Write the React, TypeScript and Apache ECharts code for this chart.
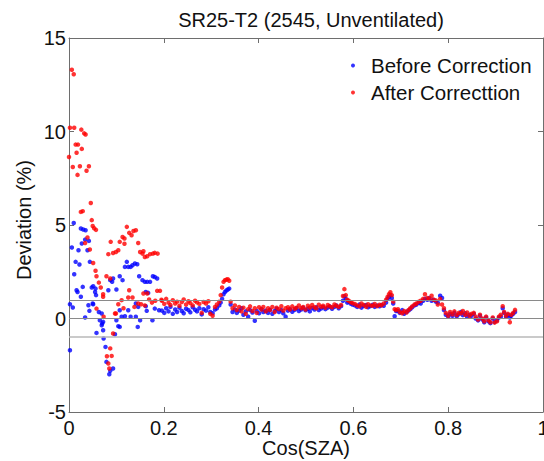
import React, { useEffect, useRef } from "react";
import * as echarts from "echarts";

const titleText = "SR25-T2 (2545, Unventilated)";
const xAxisName = "Cos(SZA)";
const yAxisName = "Deviation (%)";
const seriesNames = ["Before Correction", "After Correcttion"];
const referenceLevels = [1, 0, -1];

// scattered low-sun points [cos(SZA), deviation %]
const beforeLowSun: [number, number][] = [
  [0.010, 5.11], [0.006, 3.8], [0.011, 2.37], [0.014, 3.03], [0.022, 2.89], [0.020, 3.65],
  [0.025, 4.81], [0.030, 4.76], [0.035, 4.72], [0.027, 4.01], [0.034, 4.22], [0.042, 4.15],
  [0.039, 3.65], [0.044, 3.03], [0.018, 1.42], [0.025, 1.16], [0.029, 1.69], [0.002, 0.76],
  [0.008, 0.59], [0.002, -1.7], [0.034, 0.05], [0.043, 0.41], [0.048, 1.66], [0.051, 1.73],
  [0.056, 1.6], [0.051, 0.76], [0.058, -0.77], [0.063, 0.35], [0.065, -0.09], [0.069, -0.36],
  [0.072, -0.18], [0.073, -1.07], [0.077, -1.52], [0.079, -2.32], [0.085, -2.98], [0.087, -2.8],
  [0.093, -2.67], [0.097, -0.84], [0.100, -0.09], [0.104, -0.41], [0.107, -0.45], [0.111, 0.09],
  [0.107, 0.44], [0.118, 0.12], [0.125, 0.44], [0.130, 0.09], [0.141, 0.09], [0.145, -0.45],
  [0.150, -0.09], [0.146, 0.62], [0.141, 0.8], [0.162, 0.66], [0.164, 0.41], [0.176, -0.09],
  [0.181, 0.53], [0.190, 0.44], [0.083, 1.51], [0.087, 2.05], [0.091, 1.96], [0.093, 2.14],
  [0.100, 1.55], [0.107, 2.26], [0.113, 2.05], [0.118, 2.76], [0.122, 3.03], [0.125, 2.76],
  [0.130, 2.76], [0.134, 2.85], [0.139, 2.94], [0.144, 2.9], [0.148, 2.26], [0.155, 2.05],
  [0.160, 1.96], [0.165, 1.96], [0.171, 1.96], [0.177, 2.26], [0.181, 2.22], [0.186, 2.14],
  [0.162, 1.42], [0.167, 1.37], [0.057, 1.25], [0.041, 0.71], [0.050, 0.8], [0.069, 0.27],
  [0.070, -0.27], [0.072, -0.63], [0.055, 1.42], [0.016, 1.51],
];

const afterLowSun: [number, number][] = [
  [0.006, 13.3], [0.010, 13.06], [0.002, 10.2], [0.011, 10.2], [0.026, 10.1], [0.032, 9.9],
  [0.035, 9.84], [0.014, 9.3], [0.019, 9.3], [0.027, 9.07], [0.016, 8.86], [0.000, 8.64],
  [0.008, 8.1], [0.023, 8.14], [0.042, 8.14], [0.037, 7.9], [0.018, 7.68], [0.046, 6.18],
  [0.025, 5.7], [0.029, 5.74], [0.048, 5.26], [0.050, 4.95], [0.053, 4.83], [0.057, 4.74],
  [0.039, 4.33], [0.034, 4.04], [0.044, 3.69], [0.051, 2.97], [0.056, 2.55], [0.058, 2.26],
  [0.063, 1.92], [0.067, 1.66], [0.072, 1.16], [0.058, 0.53], [0.073, 0.09], [0.097, 0.27],
  [0.093, -0.8], [0.087, -1.6], [0.090, -2.0], [0.080, -2.02], [0.083, -2.41], [0.085, -2.67],
  [0.083, 3.44], [0.088, 4.1], [0.093, 3.5], [0.099, 3.56], [0.104, 3.65], [0.107, 4.1],
  [0.113, 4.36], [0.117, 4.0], [0.122, 4.9], [0.127, 4.58], [0.132, 4.45], [0.136, 4.68],
  [0.141, 4.72], [0.146, 4.04], [0.150, 3.56], [0.155, 3.47], [0.160, 3.29], [0.165, 3.33],
  [0.171, 3.44], [0.177, 3.47], [0.181, 3.51], [0.187, 3.47], [0.157, 3.6], [0.079, 2.26],
  [0.087, 2.14], [0.072, 1.3], [0.127, 1.51], [0.125, 1.12], [0.111, 0.98], [0.134, 1.12],
  [0.146, 0.8], [0.152, 0.76], [0.157, 1.34], [0.165, 1.34], [0.169, 1.02], [0.186, 1.48],
  [0.192, 1.48], [0.104, 0.76], [0.099, 0.27], [0.115, 0.55], [0.138, 0.62], [0.175, 0.85],
  [0.182, 0.95], [0.160, 0.70], [0.195, 1.0], [0.117, 4.28],
];

// dense band of higher-sun points (shared cos(SZA) values)
const bandCosSza = [
  0.196, 0.201, 0.205, 0.210, 0.214, 0.219, 0.224, 0.228, 0.233, 0.238, 0.242, 0.247, 0.252, 0.256,
  0.261, 0.266, 0.270, 0.275, 0.280, 0.284, 0.289, 0.294, 0.298, 0.303, 0.308, 0.312, 0.317,
  0.320, 0.323, 0.326, 0.329, 0.332, 0.335, 0.338, 0.341,
  0.345, 0.350, 0.354, 0.359, 0.364, 0.368, 0.373, 0.378, 0.382, 0.387, 0.392, 0.396, 0.401, 0.406,
  0.410, 0.415, 0.420, 0.424, 0.429, 0.434, 0.438, 0.443, 0.448, 0.452, 0.457, 0.462, 0.466, 0.471,
  0.476, 0.480, 0.485, 0.490, 0.494, 0.499, 0.504, 0.508, 0.513, 0.518, 0.522, 0.527, 0.532, 0.536,
  0.541, 0.546, 0.550, 0.555, 0.560, 0.564, 0.569, 0.574,
  0.578, 0.581, 0.584, 0.587, 0.590, 0.594, 0.598,
  0.603, 0.608, 0.613, 0.617, 0.622, 0.627, 0.631, 0.636, 0.641, 0.645, 0.650, 0.655, 0.659, 0.664, 0.669,
  0.672, 0.675, 0.678, 0.681, 0.684, 0.687, 0.690,
  0.694, 0.698, 0.703, 0.707, 0.712, 0.716, 0.720,
  0.724, 0.729, 0.733, 0.738, 0.742, 0.747, 0.751, 0.756, 0.760, 0.765, 0.769, 0.774, 0.778, 0.783, 0.787,
  0.791, 0.795, 0.800, 0.804, 0.809, 0.813, 0.818, 0.822, 0.827, 0.831, 0.836, 0.840, 0.845, 0.849, 0.854,
  0.858, 0.863, 0.867, 0.872, 0.876, 0.880, 0.885, 0.889, 0.894, 0.898, 0.903, 0.907, 0.911,
  0.915, 0.918, 0.922, 0.926, 0.930, 0.933, 0.937, 0.941,
];

const beforeBand = [
  0.42, 0.30, 0.55, 0.38, 0.62, 0.25, 0.48, 0.35, 0.58, 0.40, 0.28, 0.52, 0.45, 0.33,
  0.60, 0.47, 0.38, 0.55, 0.22, 0.50, 0.42, 0.60, 0.35, 0.28, 0.48, 0.55, 0.70,
  0.85, 1.05, 1.30, 1.42, 1.50, 1.55, 1.60, 0.75,
  0.35, 0.48, 0.30, 0.42, 0.55, 0.20, 0.38, 0.10, 0.45, 0.32, -0.12, 0.40, 0.28, 0.50,
  0.35, 0.42, 0.30, 0.46, 0.25, 0.40, 0.52, 0.35, 0.45, 0.28, 0.10, 0.42, 0.50, 0.36,
  0.46, 0.55, 0.40, 0.48, 0.58, 0.44, 0.52, 0.38, 0.56, 0.48, 0.60, 0.45, 0.53, 0.62,
  0.50, 0.58, 0.65, 0.52, 0.62, 0.70, 0.55, 0.66,
  0.95, 1.19, 1.05, 0.85, 0.90, 0.80, 0.75,
  0.70, 0.62, 0.75, 0.58, 0.68, 0.72, 0.60, 0.66, 0.74, 0.62, 0.70, 0.65, 0.72, 0.68, 0.85,
  1.05, 1.15, 1.25, 1.10, 0.80, 0.12, 0.40,
  0.40, 0.30, 0.45, 0.25, 0.35, 0.42, 0.50,
  0.60, 0.70, 0.75, 0.85, 0.80, 0.95, 1.05, 1.00, 1.10, 0.95, 1.00, 0.90, 0.85, 1.22, 1.10,
  0.45, 0.20, 0.10, 0.25, 0.15, 0.30, 0.12, 0.22, 0.35, 0.18, 0.28, 0.10, 0.20, 0.15, 0.25,
  0.00, -0.10, 0.15, -0.05, -0.20, 0.05, -0.15, -0.25, 0.00, -0.18, -0.10, 0.05, 0.10,
  0.55, 0.30, 0.10, 0.20, 0.05, 0.15, 0.25, 0.35,
];

const afterBand = [
  0.95, 0.78, 1.05, 0.85, 0.72, 0.98, 0.80, 0.90, 0.68, 0.88, 1.02, 0.75, 0.92, 0.82,
  0.70, 0.95, 0.86, 0.78, 0.30, 0.88, 0.80, 0.92, 0.25, 0.15, 0.62, 0.75, 0.90,
  1.25, 1.66, 1.96, 2.05, 2.08, 2.10, 2.02, 0.90,
  0.55, 0.70, 0.45, 0.62, 0.38, 0.58, 0.25, 0.50, 0.65, 0.40, 0.55, 0.30, 0.60, 0.48,
  0.62, 0.38, 0.55, 0.45, 0.62, 0.35, 0.58, 0.50, 0.66, 0.42, 0.55, 0.60, 0.48, 0.65,
  0.52, 0.58, 0.70, 0.55, 0.62, 0.48, 0.68, 0.58, 0.72, 0.60, 0.55, 0.74, 0.62, 0.68,
  0.58, 0.72, 0.65, 0.60, 0.75, 0.68, 0.62, 0.72,
  1.20, 1.57, 1.25, 1.00, 0.95, 0.88, 0.82,
  0.78, 0.70, 0.65, 0.80, 0.72, 0.62, 0.76, 0.70, 0.68, 0.78, 0.66, 0.74, 0.70, 0.80, 1.00,
  1.15, 1.30, 1.40, 1.25, 0.90, 0.50, 0.45,
  0.50, 0.35, 0.28, 0.40, 0.32, 0.45, 0.55,
  0.65, 0.75, 0.80, 0.90, 0.95, 1.05, 1.30, 1.10, 1.05, 1.22, 1.00, 0.97, 0.75, 1.05, 0.75,
  0.55, 0.30, 0.15, 0.35, 0.22, 0.38, 0.18, 0.30, 0.28, 0.40, 0.20, 0.32, 0.15, 0.25, 0.30,
  0.10, -0.05, 0.20, 0.00, -0.15, 0.10, -0.10, -0.20, 0.05, -0.22, -0.15, 0.10, 0.20,
  0.66, 0.35, 0.15, 0.25, -0.20, 0.20, 0.30, 0.46,
];

const FONT = '"Liberation Sans", Arial, Helvetica, sans-serif';

export default function App() {
  const ref = useRef<HTMLDivElement>(null);

  useEffect(() => {
    document.body.style.margin = "0";
    if (!ref.current) return;
    const chart = echarts.init(ref.current, null, { renderer: "svg" });

    const beforeData = beforeLowSun.concat(
      bandCosSza.map((x, i) => [x, beforeBand[i]] as [number, number])
    );
    const afterData = afterLowSun.concat(
      bandCosSza.map((x, i) => [x, afterBand[i]] as [number, number])
    );

    const axisLineStyle = { color: "#6e6e6e", width: 1 };
    const tick = { show: true, inside: true, length: 5, lineStyle: { color: "#6e6e6e" } };

    chart.setOption({
      animation: false,
      backgroundColor: "#ffffff",
      textStyle: { fontFamily: FONT },
      title: {
        text: titleText,
        left: 306,
        top: 5,
        textAlign: "center",
        textStyle: { fontFamily: FONT, fontSize: 20, fontWeight: "normal", color: "#111" },
      },
      legend: {
        orient: "vertical",
        left: 346,
        top: 50,
        itemWidth: 26,
        itemHeight: 4,
        itemGap: 6,
        icon: "circle",
        data: seriesNames,
        textStyle: { fontFamily: FONT, fontSize: 20.5, color: "#111", lineHeight: 20 },
      },
      grid: {
        left: 69,
        right: 1,
        top: 38,
        bottom: 49,
        containLabel: false,
        outerBoundsMode: "none",
      },
      xAxis: [
        {
          type: "value",
          min: 0,
          max: 1,
          interval: 0.2,
          position: "bottom",
          name: xAxisName,
          nameLocation: "middle",
          nameGap: 26,
          nameMoveOverlap: false,
          nameTextStyle: { fontFamily: FONT, fontSize: 20, color: "#111", lineHeight: 20 },
          axisLine: { show: true, onZero: false, lineStyle: axisLineStyle },
          axisTick: tick,
          axisLabel: { fontFamily: FONT, fontSize: 20, color: "#111", margin: 6 },
          splitLine: { show: false },
        },
        {
          type: "value",
          min: 0,
          max: 1,
          interval: 0.2,
          position: "top",
          axisLine: { show: true, onZero: false, lineStyle: axisLineStyle },
          axisTick: tick,
          axisLabel: { show: false },
          splitLine: { show: false },
        },
      ],
      yAxis: [
        {
          type: "value",
          min: -5,
          max: 15,
          interval: 5,
          position: "left",
          name: yAxisName,
          nameLocation: "middle",
          nameGap: 35,
          nameRotate: 90,
          nameMoveOverlap: false,
          nameTextStyle: { fontFamily: FONT, fontSize: 20, color: "#111", padding: [0, 0, 0, 10] },
          axisLine: { show: true, onZero: false, lineStyle: axisLineStyle },
          axisTick: tick,
          axisLabel: { fontFamily: FONT, fontSize: 20, color: "#111", margin: 3 },
          splitLine: { show: false },
        },
        {
          type: "value",
          min: -5,
          max: 15,
          interval: 5,
          position: "right",
          axisLine: { show: true, onZero: false, lineStyle: axisLineStyle },
          axisTick: tick,
          axisLabel: { show: false },
          splitLine: { show: false },
        },
      ],
      series: [
        {
          name: seriesNames[0],
          type: "scatter",
          xAxisIndex: 0,
          yAxisIndex: 0,
          symbol: "circle",
          symbolSize: 4.5,
          itemStyle: { color: "#0000ff" },
          data: beforeData,
          markLine: {
            silent: true,
            symbol: "none",
            label: { show: false },
            data: referenceLevels.map((v) => ({
              yAxis: v,
              lineStyle: { color: v === -1 ? "#b8b8b8" : "#8a8a8a", width: v === -1 ? 1.5 : 1, type: "solid" },
            })),
          },
        },
        {
          name: seriesNames[1],
          type: "scatter",
          xAxisIndex: 0,
          yAxisIndex: 0,
          symbol: "circle",
          symbolSize: 4.5,
          itemStyle: { color: "#ff0000" },
          data: afterData,
        },
      ],
    });

    return () => chart.dispose();
  }, []);

  return (
    <div
      ref={ref}
      style={{ position: "fixed", left: 0, top: 0, width: 544, height: 461, background: "#fff" }}
    />
  );
}
